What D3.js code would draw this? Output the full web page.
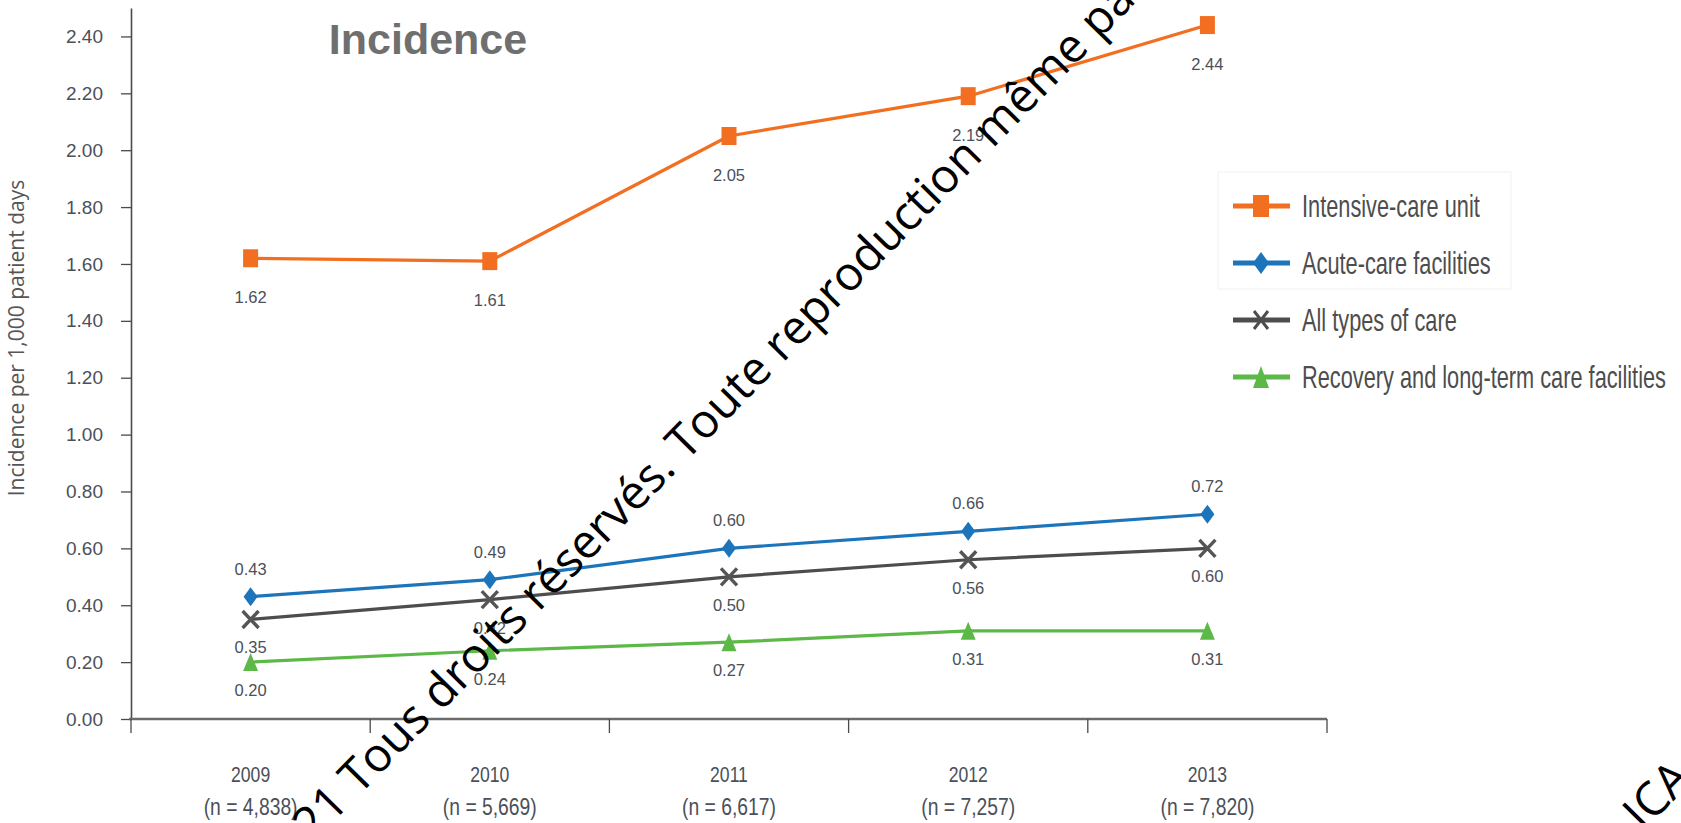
<!DOCTYPE html>
<html>
<head>
<meta charset="utf-8">
<script src="https://cdn.jsdelivr.net/npm/d3@7"></script>
<style>
  html, body { margin: 0; padding: 0; background: #ffffff; }
  svg { display: block; }
</style>
</head>
<body>
<svg id="chart" width="1681" height="823"></svg>
<script>
// ---------------- data ----------------
const years = ["2009", "2010", "2011", "2012", "2013"];
const nLabels = ["(n = 4,838)", "(n = 5,669)", "(n = 6,617)", "(n = 7,257)", "(n = 7,820)"];
const icuValues = [1.62, 1.61, 2.05, 2.19, 2.44];
const acuteValues = [0.43, 0.49, 0.60, 0.66, 0.72];
const allCareValues = [0.35, 0.42, 0.50, 0.56, 0.60];
const recoveryValues = [0.20, 0.24, 0.27, 0.31, 0.31];
const seriesNames = ["Intensive-care unit", "Acute-care facilities", "All types of care", "Recovery and long-term care facilities"];
const yTickValues = [0, 0.2, 0.4, 0.6, 0.8, 1.0, 1.2, 1.4, 1.6, 1.8, 2.0, 2.2, 2.4];
const titleText = "Incidence";
const yAxisTitle = "Incidence per 1,000 patient days";
const watermarkBefore = "© 2021 Tous droits réservés. ";
const watermarkAfter = "Toute reproduction même partielle interdite";
const watermark2 = "ICA";

// ---------------- build ----------------
const svg = d3.select("#chart");
svg.append("rect").attr("width", 1681).attr("height", 823).attr("fill", "#ffffff");

const x = d3.scaleBand().domain(years).range([131, 1327]).paddingInner(0).paddingOuter(0);
const y = d3.scaleLinear().domain([0, 2.5]).range([719, 8]);
const cx = d => x(d) + x.bandwidth() / 2;

const numFont = "'Liberation Sans', Arial, sans-serif";
const labelColor = "#4b5059";

// Y axis
const yAxis = d3.axisLeft(y)
  .tickValues(yTickValues)
  .tickFormat(d3.format(".2f"))
  .tickSizeInner(10)
  .tickSizeOuter(0)
  .tickPadding(18);
const gy = svg.append("g").attr("transform", "translate(131,0)").call(yAxis);
gy.select(".domain").attr("stroke", "#4a4a4a").attr("stroke-width", 1.6);
gy.selectAll(".tick line").attr("stroke", "#4a4a4a").attr("stroke-width", 1.3);
gy.selectAll(".tick text")
  .attr("font-family", numFont).attr("font-size", 19).attr("fill", labelColor);

// X axis (category boundaries as ticks)
const boundaries = years.map(d => x(d)).concat([x.range()[1]]);
const gx = svg.append("g");
gx.append("line")
  .attr("x1", x.range()[0] - 2).attr("x2", x.range()[1])
  .attr("y1", y(0)).attr("y2", y(0))
  .attr("stroke", "#6b6b6b").attr("stroke-width", 2.4);
gx.selectAll("line.xtick").data(boundaries).join("line")
  .attr("class", "xtick")
  .attr("x1", d => d).attr("x2", d => d)
  .attr("y1", y(0)).attr("y2", y(0) + 14)
  .attr("stroke", "#4a4a4a").attr("stroke-width", 1.3);
gx.selectAll("text.year").data(years).join("text")
  .attr("class", "year")
  .attr("transform", d => `translate(${cx(d)},782) scale(0.8,1)`)
  .attr("text-anchor", "middle")
  .attr("font-family", numFont).attr("font-size", 22).attr("fill", labelColor)
  .text(d => d);
gx.selectAll("text.nlab").data(nLabels).join("text")
  .attr("class", "nlab")
  .attr("transform", (d, i) => `translate(${cx(years[i])},815) scale(0.84,1)`)
  .attr("text-anchor", "middle")
  .attr("font-family", numFont).attr("font-size", 23).attr("fill", labelColor)
  .text(d => d);

// Axis title
svg.append("text")
  .attr("transform", "translate(24,338) rotate(-90)")
  .attr("text-anchor", "middle")
  .attr("font-family", "'Open Sans', sans-serif").attr("font-size", 21).attr("fill", "#555555")
  .text(yAxisTitle);

// Chart title
svg.append("text")
  .attr("x", 428).attr("y", 54)
  .attr("text-anchor", "middle")
  .attr("font-family", "'Liberation Sans', Arial, sans-serif")
  .attr("font-weight", "bold").attr("font-size", 43).attr("fill", "#6f6f6f")
  .text(titleText);

// marker path builders (relative to centre)
const markerPath = {
  square: (w, h) => `M${-w/2},${-h/2}H${w/2}V${h/2}H${-w/2}Z`,
  diamond: (w, h) => `M0,${-h/2}L${w/2},0L0,${h/2}L${-w/2},0Z`,
  triangle: (w, h) => `M0,${-h/2}L${w/2},${h/2}L${-w/2},${h/2}Z`,
  cross: (w, h) => `M${-w/2},${-h/2}L${w/2},${h/2}M${w/2},${-h/2}L${-w/2},${h/2}`
};

const series = [
  { name: seriesNames[0], values: icuValues, color: "#f26f21", marker: "square", mw: 15, mh: 18, labelDy: 45, crossStroke: 0 },
  { name: seriesNames[1], values: acuteValues, color: "#1c74ba", marker: "diamond", mw: 14, mh: 19, labelDy: -22, crossStroke: 0 },
  { name: seriesNames[2], values: allCareValues, color: "#4d4d4d", marker: "cross", mw: 16, mh: 17, labelDy: 34, crossStroke: 3.4 },
  { name: seriesNames[3], values: recoveryValues, color: "#5cb947", marker: "triangle", mw: 15, mh: 18, labelDy: 34, crossStroke: 0 }
];

const line = d3.line().x(d => cx(d.year)).y(d => y(d.value));

// draw series (bottom to top order like reference)
const drawOrder = [3, 2, 1, 0];
drawOrder.forEach(si => {
  const s = series[si];
  const pts = s.values.map((v, i) => ({ year: years[i], value: v }));
  const g = svg.append("g");
  g.append("path").datum(pts)
    .attr("d", line).attr("fill", "none")
    .attr("stroke", s.color).attr("stroke-width", 3.2).attr("stroke-linejoin", "round");
  g.selectAll("path.mk").data(pts).join("path")
    .attr("class", "mk")
    .attr("transform", d => `translate(${cx(d.year)},${y(d.value)})`)
    .attr("d", markerPath[s.marker](s.mw, s.mh))
    .attr("fill", s.marker === "cross" ? "none" : s.color)
    .attr("stroke", s.marker === "cross" ? "#555555" : "none")
    .attr("stroke-width", s.crossStroke);
  g.selectAll("text.lab").data(pts).join("text")
    .attr("class", "lab")
    .attr("x", d => cx(d.year)).attr("y", d => y(d.value) + s.labelDy)
    .attr("text-anchor", "middle")
    .attr("font-family", numFont).attr("font-size", 16.5).attr("fill", labelColor)
    .text(d => d3.format(".2f")(d.value));
});

// Legend
const legend = svg.append("g");
legend.append("rect")
  .attr("x", 1218).attr("y", 172).attr("width", 293).attr("height", 117)
  .attr("fill", "none").attr("stroke", "#f1f1f1").attr("stroke-width", 1);
const legendY = [206, 263, 320, 377];
series.forEach((s, i) => {
  const gl = legend.append("g").attr("transform", `translate(0,${legendY[i]})`);
  gl.append("line").attr("x1", 1233).attr("x2", 1290).attr("y1", 0).attr("y2", 0)
    .attr("stroke", s.color).attr("stroke-width", 5);
  gl.append("path")
    .attr("transform", "translate(1261,0)")
    .attr("d", markerPath[s.marker](s.marker === "cross" ? 14 : 16, s.marker === "cross" ? 18 : 22))
    .attr("fill", s.marker === "cross" ? "none" : s.color)
    .attr("stroke", s.marker === "cross" ? s.color : "none")
    .attr("stroke-width", s.marker === "cross" ? 3 : 0);
  gl.append("text")
    .attr("transform", "translate(1302,11) scale(0.68,1)")
    .attr("font-family", numFont).attr("font-size", 32).attr("fill", "#4d4d4d")
    .text(s.name);
});

// Watermark overlay
const wm = svg.append("g").attr("transform", "translate(686,462) rotate(-45.6)");
wm.append("text").attr("x", 0).attr("y", 0).attr("text-anchor", "end")
  .attr("font-family", "'Open Sans', sans-serif").attr("font-size", 47).attr("fill", "#000")
  .attr("xml:space", "preserve")
  .text(watermarkBefore);
wm.append("text").attr("x", 0).attr("y", 0).attr("text-anchor", "start")
  .attr("font-family", "'Open Sans', sans-serif").attr("font-size", 47).attr("fill", "#000")
  .text(watermarkAfter);
svg.append("text")
  .attr("transform", "translate(1643,832) rotate(-45.6)")
  .attr("font-family", "'Open Sans', sans-serif").attr("font-size", 47).attr("fill", "#000")
  .text(watermark2);
</script>
</body>
</html>
